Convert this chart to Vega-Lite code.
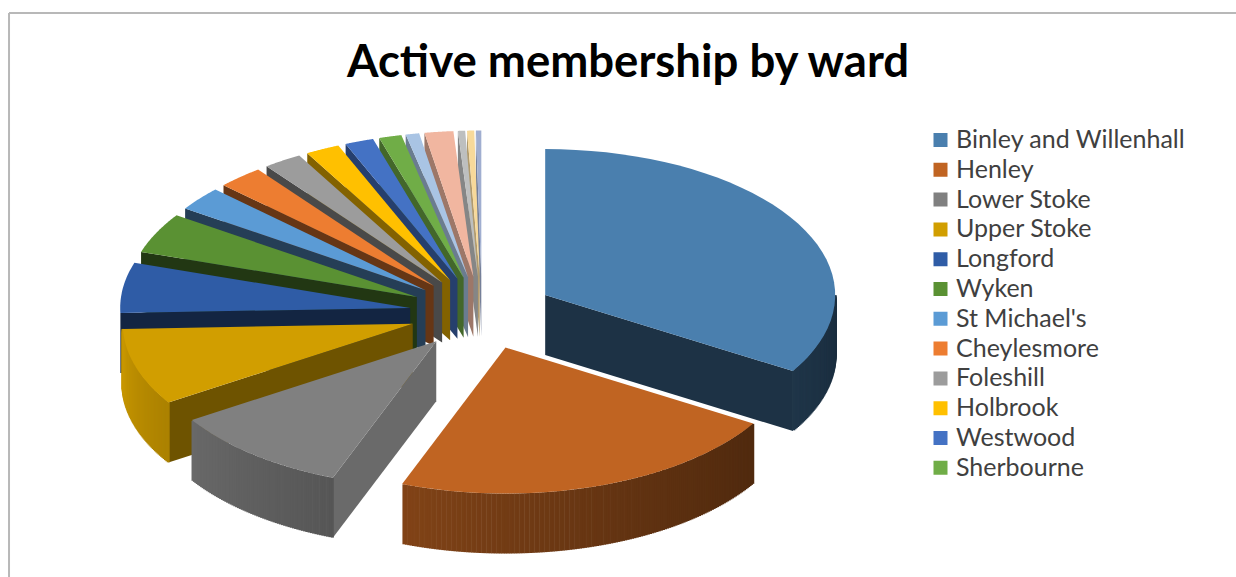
{
  "$schema": "https://vega.github.io/schema/vega-lite/v6.json",
  "width": 1236,
  "height": 577,
  "autosize": "none",
  "padding": 0,
  "background": "white",
  "view": {"stroke": null},
  "title": {
    "text": "Active membership by ward",
    "font": "Lato",
    "fontSize": 45.5,
    "fontWeight": "bold",
    "color": "#000000",
    "anchor": "middle",
    "frame": "group",
    "baseline": "alphabetic",
    "offset": 0,
    "dx": 10,
    "dy": 122
  },
  "data": {
    "values": [
      {"seq": 17, "ward": "Ward 17", "share": 0.3},
      {"seq": 16, "ward": "Ward 16", "share": 0.4},
      {"seq": 15, "ward": "Ward 15", "share": 0.4},
      {"seq": 14, "ward": "Ward 14", "share": 1.6},
      {"seq": 13, "ward": "Ward 13", "share": 0.75},
      {"seq": 12, "ward": "Sherbourne", "share": 1.25},
      {"seq": 11, "ward": "Westwood", "share": 1.6},
      {"seq": 10, "ward": "Holbrook", "share": 1.9},
      {"seq": 9, "ward": "Foleshill", "share": 2.15},
      {"seq": 8, "ward": "Cheylesmore", "share": 2.55},
      {"seq": 7, "ward": "St Michael's", "share": 2.65},
      {"seq": 6, "ward": "Wyken", "share": 4.45},
      {"seq": 5, "ward": "Longford", "share": 5.55},
      {"seq": 4, "ward": "Upper Stoke", "share": 8.5},
      {"seq": 3, "ward": "Lower Stoke", "share": 10.15},
      {"seq": 1, "ward": "Binley and Willenhall", "share": 33.7},
      {"seq": 2, "ward": "Henley", "share": 22.1}
    ]
  },
  "transform": [
    {"window": [{"op": "sum", "field": "share", "as": "cum"}], "sort": [{"field": "seq", "order": "ascending"}], "frame": [null, 0]},
    {"joinaggregate": [{"op": "sum", "field": "share", "as": "total"}]},
    {"calculate": "360 * datum.cum / datum.total", "as": "a1"},
    {"calculate": "datum.a1 - 360 * datum.share / datum.total", "as": "a0"},
    {"calculate": "0.25 * sin((datum.a0 + datum.a1) / 2 * PI / 180)", "as": "ox"},
    {"calculate": "0.25 * cos((datum.a0 + datum.a1) / 2 * PI / 180)", "as": "oy"},
    {"calculate": "['#4a7fae','#c06422','#808080','#d19e00','#2f5ca6','#5a9133','#5b9bd5','#ed7d31','#9c9c9c','#ffc000','#4472c4','#70ad47','#a9c4e4','#f1b6a0','#bdbfbf','#f7d99a','#a0aed0'][datum.seq - 1]", "as": "base"}
  ],
  "encoding": {
    "x": {"field": "x", "type": "quantitative", "axis": null, "scale": {"domain": [-1.6621, 2.6], "nice": false, "zero": false}},
    "y": {"field": "y", "type": "quantitative", "axis": null, "scale": {"domain": [-1.8082, 2.1438], "nice": false, "zero": false}}
  },
  "layer": [
    {
      "description": "Chart frame, top edge",
      "transform": [
        {"filter": "datum.seq == 1"},
        {"calculate": "-1.631", "as": "x"},
        {"calculate": "2.6", "as": "xe"},
        {"calculate": "2.0548", "as": "y"}
      ],
      "mark": {"type": "rule", "stroke": "#b8b8b8", "strokeWidth": 2},
      "encoding": {"x2": {"field": "xe"}}
    },
    {
      "description": "Chart frame, left edge",
      "transform": [
        {"filter": "datum.seq == 1"},
        {"calculate": "-1.631", "as": "x"},
        {"calculate": "2.0548", "as": "y"},
        {"calculate": "-1.8082", "as": "ye"}
      ],
      "mark": {"type": "rule", "stroke": "#b8b8b8", "strokeWidth": 2},
      "encoding": {"y2": {"field": "ye"}}
    },
    {
      "description": "Flat cut walls of each exploded slice",
      "transform": [
        {"filter": "datum.a1 < 180 || datum.a0 >= 180"},
        {"calculate": "datum.a1 < 180 ? datum.a1 : datum.a0", "as": "edge"},
        {"calculate": "datum.a1 < 180 ? datum.a1 + 90 : datum.a0 - 90", "as": "normal"},
        {"calculate": "0.38 + 0.44 * pow((datum.normal - 195) / 83, 2)", "as": "k"},
        {"calculate": "'rgb(' + round(rgb(datum.base).r * datum.k) + ',' + round(rgb(datum.base).g * datum.k) + ',' + round(rgb(datum.base).b * datum.k) + ')'", "as": "shade"},
        {"calculate": "sequence(0, 4)", "as": "i"},
        {"flatten": ["i"]},
        {"calculate": "datum.i == 1 || datum.i == 2 ? 1 : 0", "as": "r"},
        {"calculate": "datum.i >= 2 ? 0.411 : 0", "as": "z"},
        {"calculate": "datum.ox + datum.r * sin(datum.edge * PI / 180)", "as": "x"},
        {"calculate": "datum.oy + datum.r * cos(datum.edge * PI / 180) - datum.z", "as": "y"}
      ],
      "mark": {"type": "line", "filled": true, "strokeWidth": 0},
      "encoding": {
        "fill": {"field": "shade", "type": "nominal", "scale": null, "legend": null},
        "detail": {"field": "seq", "type": "nominal"},
        "order": {"field": "i", "type": "quantitative"}
      }
    },
    {
      "description": "Curved outer rim, shaded by its angle round the pie",
      "transform": [
        {"filter": "datum.a1 > 90 && datum.a0 < 265"},
        {"calculate": "sequence(ceil(max(datum.a0, 90) * 2), floor(min(datum.a1, 270) * 2) + 1)", "as": "i"},
        {"flatten": ["i"]},
        {"calculate": "datum.i / 2", "as": "ang"},
        {"calculate": "0.36 + 0.6 * pow((datum.ang - 90) / 180, 1.35)", "as": "k"},
        {"calculate": "'rgb(' + round(rgb(datum.base).r * datum.k) + ',' + round(rgb(datum.base).g * datum.k) + ',' + round(rgb(datum.base).b * datum.k) + ')'", "as": "shade"},
        {"calculate": "datum.ox + sin(datum.ang * PI / 180)", "as": "x"},
        {"calculate": "datum.oy + cos(datum.ang * PI / 180)", "as": "y"},
        {"calculate": "datum.y - 0.411", "as": "yb"}
      ],
      "mark": {"type": "rule", "strokeWidth": 3},
      "encoding": {
        "y2": {"field": "yb"},
        "stroke": {"field": "shade", "type": "nominal", "scale": null, "legend": null}
      }
    },
    {
      "description": "Top face of each slice, carrying the ward legend",
      "transform": [
        {"calculate": "sequence(0, 42)", "as": "i"},
        {"flatten": ["i"]},
        {"calculate": "datum.a0 + (datum.a1 - datum.a0) * (datum.i - 1) / 40", "as": "ang"},
        {"calculate": "datum.i == 0 ? 0 : 1", "as": "r"},
        {"calculate": "datum.ox + datum.r * sin(datum.ang * PI / 180)", "as": "x"},
        {"calculate": "datum.oy + datum.r * cos(datum.ang * PI / 180)", "as": "y"}
      ],
      "mark": {"type": "line", "filled": true, "strokeWidth": 0},
      "encoding": {
        "order": {"field": "i", "type": "quantitative"},
        "color": {
          "field": "ward",
          "type": "nominal",
          "scale": {
            "domain": ["Binley and Willenhall", "Henley", "Lower Stoke", "Upper Stoke", "Longford", "Wyken", "St Michael's", "Cheylesmore", "Foleshill", "Holbrook", "Westwood", "Sherbourne", "Ward 13", "Ward 14", "Ward 15", "Ward 16", "Ward 17"],
            "range": ["#4a7fae", "#c06422", "#808080", "#d19e00", "#2f5ca6", "#5a9133", "#5b9bd5", "#ed7d31", "#9c9c9c", "#ffc000", "#4472c4", "#70ad47", "#a9c4e4", "#f1b6a0", "#bdbfbf", "#f7d99a", "#a0aed0"]
          },
          "legend": {
            "title": null,
            "orient": "none",
            "legendX": 928,
            "legendY": 127,
            "values": ["Binley and Willenhall", "Henley", "Lower Stoke", "Upper Stoke", "Longford", "Wyken", "St Michael's", "Cheylesmore", "Foleshill", "Holbrook", "Westwood", "Sherbourne"],
            "symbolType": "square",
            "symbolSize": 196,
            "symbolStrokeWidth": 0,
            "labelFont": "Lato",
            "labelFontSize": 25,
            "labelColor": "#404040",
            "labelLimit": 300,
            "labelOffset": 3,
            "rowPadding": 3.8,
            "clipHeight": 26
          }
        }
      }
    }
  ]
}
